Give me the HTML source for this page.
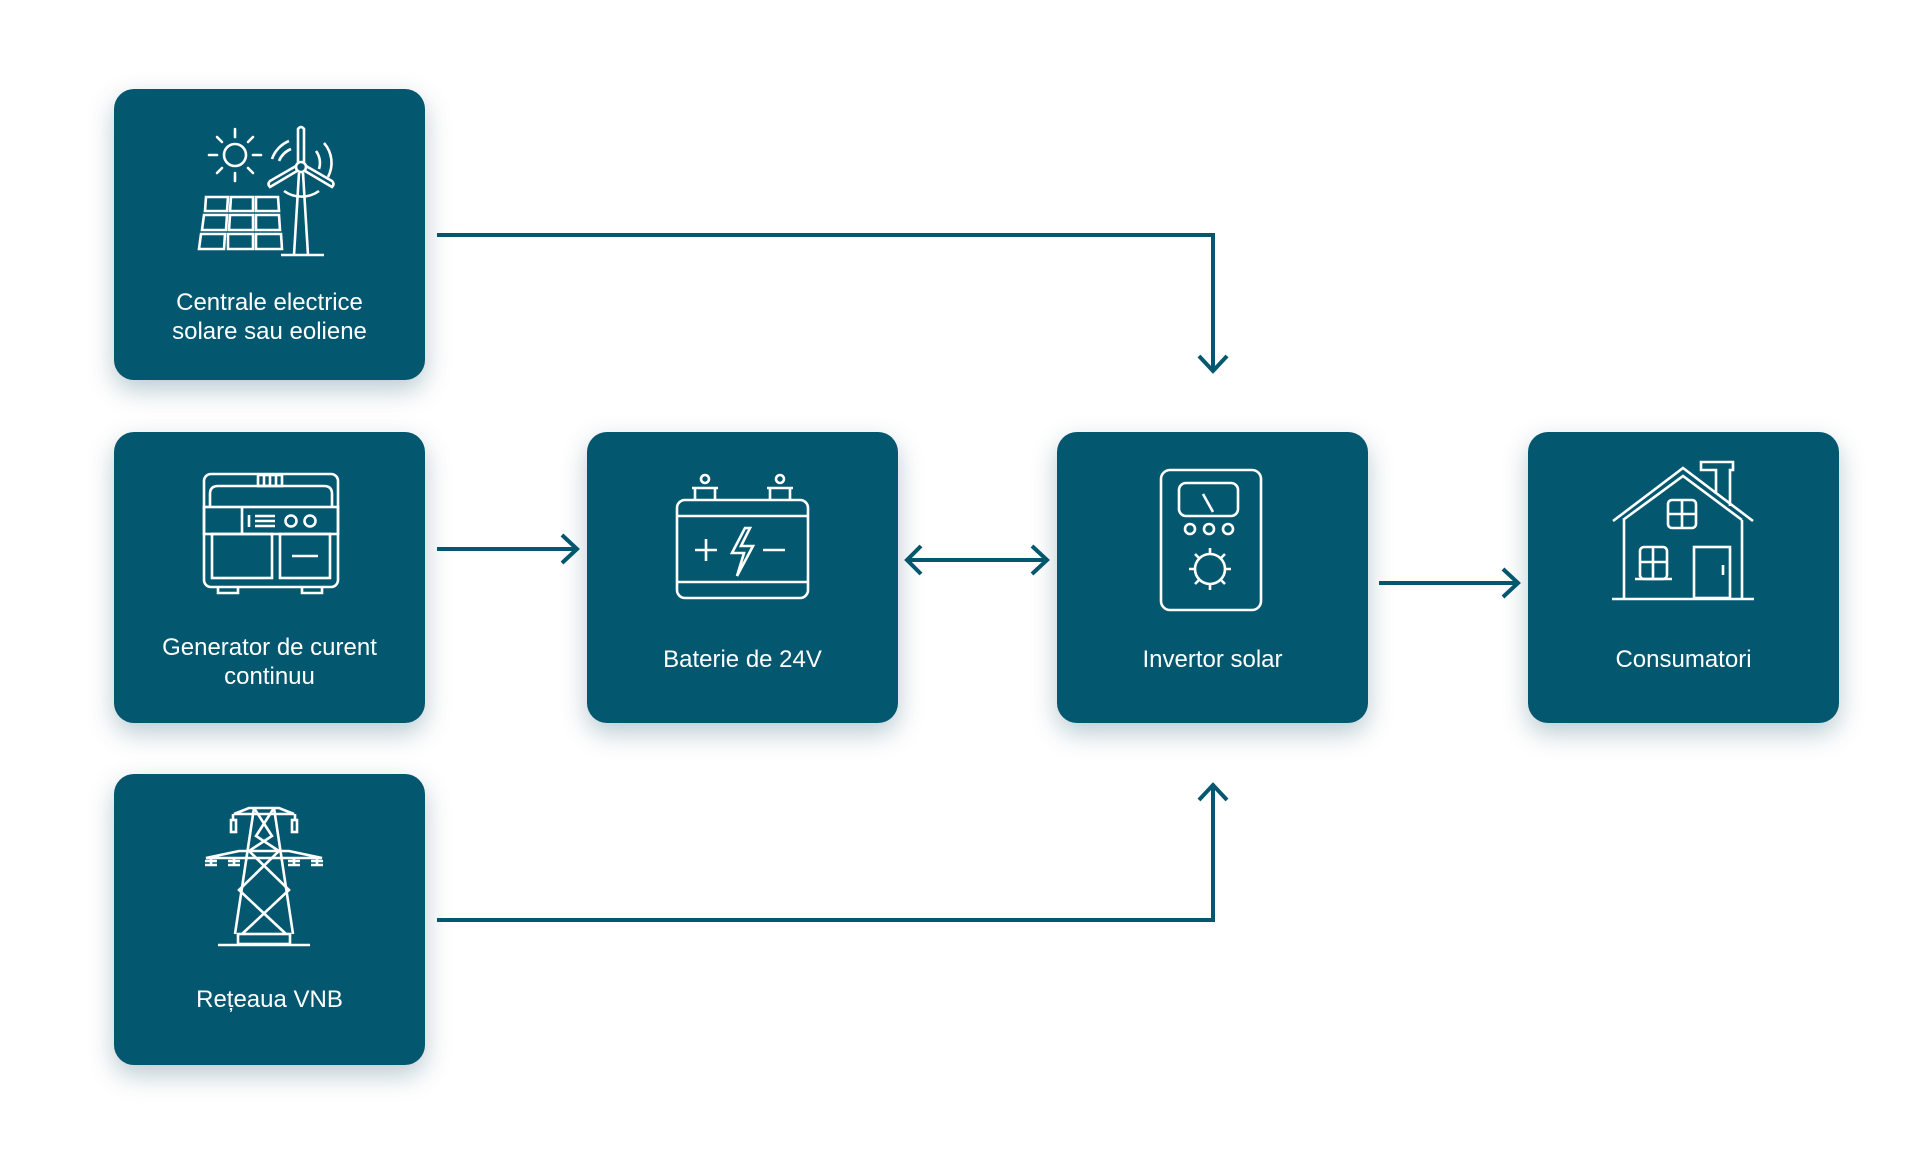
<!DOCTYPE html>
<html><head><meta charset="utf-8"><style>
html,body{margin:0;padding:0;background:#fff;width:1920px;height:1152px;overflow:hidden;font-family:"Liberation Sans",sans-serif}
.b{position:absolute;width:311px;height:291px;background:#03576f;border-radius:20px;box-shadow:0 10px 26px rgba(3,70,95,.28)}
.b svg{position:absolute;left:0;top:0}
.t{position:absolute;left:0;width:100%;text-align:center;color:#fff;font-size:24px;line-height:29px}
</style></head><body>
<svg width="1920" height="1152" style="position:absolute;left:0;top:0" fill="none" stroke="#03576f" stroke-width="4">
<polyline points="437,235 1213,235 1213,370"/><polyline points="1199,356 1213,371 1227,356"/>
<polyline points="437,920 1213,920 1213,786"/><polyline points="1199,800 1213,785 1227,800"/>
<line x1="437" y1="549" x2="576" y2="549"/><polyline points="562,535 577,549 562,563"/>
<line x1="907" y1="560" x2="1046" y2="560"/><polyline points="921,546 907,560 921,574"/><polyline points="1032,546 1047,560 1032,574"/>
<line x1="1379" y1="583" x2="1517" y2="583"/><polyline points="1503,569 1518,583 1503,597"/>
</svg>

<div class="b" style="left:114px;top:89px">
<svg width="311" height="291" fill="none" stroke="#fff" stroke-width="2.6">
<circle cx="121" cy="66" r="11"/>
<g stroke-linecap="round"><line x1="121" y1="40" x2="121" y2="48"/><line x1="121" y1="84" x2="121" y2="92"/><line x1="95" y1="66" x2="103" y2="66"/><line x1="139" y1="66" x2="147" y2="66"/><line x1="103" y1="48" x2="108" y2="53"/><line x1="134" y1="79" x2="139" y2="84"/><line x1="139" y1="48" x2="134" y2="53"/><line x1="108" y1="79" x2="103" y2="84"/></g>
<circle cx="187" cy="78" r="5"/>
<path d="M184,73 L184,40 Q187,36 190,40 L190,73"/>
<path d="M183,82 L156,98 Q153,95 156,92 L182,77"/>
<path d="M191,82 L218,98 Q221,95 218,92 L192,77"/>
<path d="M158,70 A30,30 0 0 1 175,52 M165,72 A22,22 0 0 1 177,60 M210,54 A30,30 0 0 1 214,88 M202,62 A20,20 0 0 1 205,80 M170,102 A30,30 0 0 0 205,102"/>
<path d="M185,84 L180,166 M189,84 L194,166 M167,166 L210,166"/>
<path d="M92,108h22l-1,14h-22zM117,108h22v14h-23zM142,108h22l1,14h-23z M90,126h23l-1,15h-24zM116,126h23v15h-24zM142,126h23l1,15h-24z M87,145h24l-1,15h-25zM114,145h25v15h-25zM142,145h25l1,15h-26z"/>
</svg>
<div class="t" style="top:199px">Centrale electrice<br>solare sau eoliene</div></div>

<div class="b" style="left:114px;top:432px">
<svg width="311" height="291" fill="none" stroke="#fff" stroke-width="2.6">
<rect x="90" y="42" width="134" height="113" rx="7"/>
<path d="M96,75 L96,62 Q96,54 104,54 L210,54 Q218,54 218,62 L218,75"/>
<rect x="144" y="43" width="24" height="11"/><path d="M150,43v11M156,43v11M162,43v11"/>
<rect x="90" y="75" width="134" height="27"/><path d="M128,75v27"/>
<path d="M135,83v12M141,84h20M141,89h20M141,94h20"/><circle cx="177" cy="89" r="5.5"/><circle cx="196" cy="89" r="5.5"/>
<rect x="98" y="102" width="60" height="44"/><rect x="166" y="102" width="50" height="44"/><path d="M178,124h26"/>
<path d="M104,155v6h20v-6M188,155v6h20v-6"/>
</svg>
<div class="t" style="top:201px">Generator de curent<br>continuu</div></div>

<div class="b" style="left:587px;top:432px">
<svg width="311" height="291" fill="none" stroke="#fff" stroke-width="2.6">
<rect x="90" y="68" width="131" height="98" rx="8"/><path d="M90,84h131M90,150h131"/>
<path d="M108,68v-12h20v12M105,56h26"/><path d="M183,68v-12h20v12M180,56h26"/>
<circle cx="118" cy="47" r="4"/><circle cx="193" cy="47" r="4"/>
<path d="M108,118h22M119,107v22M176,118h22"/>
<path d="M158,96 L145,121 L157,121 L150,144 L166,114 L154,114 L163,96 Z"/>
</svg>
<div class="t" style="top:213px">Baterie de 24V</div></div>

<div class="b" style="left:1057px;top:432px">
<svg width="311" height="291" fill="none" stroke="#fff" stroke-width="2.6">
<rect x="104" y="38" width="100" height="140" rx="9"/>
<rect x="122" y="51" width="59" height="33" rx="7"/><path d="M146,62 L156,80"/>
<circle cx="133" cy="97" r="5"/><circle cx="152" cy="97" r="5"/><circle cx="171" cy="97" r="5"/>
<circle cx="153" cy="137" r="15"/>
<path d="M153,116v6M153,152v6M132,137h6M168,137h6M138,122l4,4M168,122l-4,4M138,152l4,-4M168,152l-4,-4"/>
</svg>
<div class="t" style="top:213px">Invertor solar</div></div>

<div class="b" style="left:1528px;top:432px">
<svg width="311" height="291" fill="none" stroke="#fff" stroke-width="2.6">
<path d="M85,89 L155,36 L225,89 M95,88 L155,44 L214,88 M96,88V166 M214,88V166 M84,167h142"/>
<path d="M188,62V38h-15v-8h32v8h-3v36"/>
<rect x="140" y="68" width="28" height="28" rx="4"/><path d="M154,68v28M140,82h28"/>
<rect x="112" y="115" width="27" height="32" rx="4"/><path d="M125,115v32M112,130h27M107,147h37"/>
<rect x="166" y="115" width="36" height="51"/><path d="M195,133v10"/>
</svg>
<div class="t" style="top:213px">Consumatori</div></div>

<div class="b" style="left:114px;top:774px">
<svg width="311" height="291" fill="none" stroke="#fff" stroke-width="2.6">
<path d="M120,40 L135,34 L165,34 L180,40 Z M120,40h60"/>
<rect x="117" y="46" width="5" height="12"/><rect x="178" y="46" width="5" height="12"/><path d="M119,40v6M181,40v6"/>
<path d="M92,84 L125,77 L175,77 L208,84 Z"/>
<path d="M97,84v7M91,87h12M91,91h12M120,84v7M114,87h12M114,91h12M180,84v7M174,87h12M174,91h12M203,84v7M197,87h12M197,91h12"/>
<path d="M140,34 L121,160 M160,34 L179,160"/>
<path d="M140,34 L158,62 L135,77 M160,34 L142,62 L165,77 M135,77 L175,116 L128,160 M165,77 L125,116 L172,160"/>
<rect x="124" y="160" width="52" height="10"/><path d="M104,171h92"/>
</svg>
<div class="t" style="top:211px">Rețeaua VNB</div></div>
</body></html>
